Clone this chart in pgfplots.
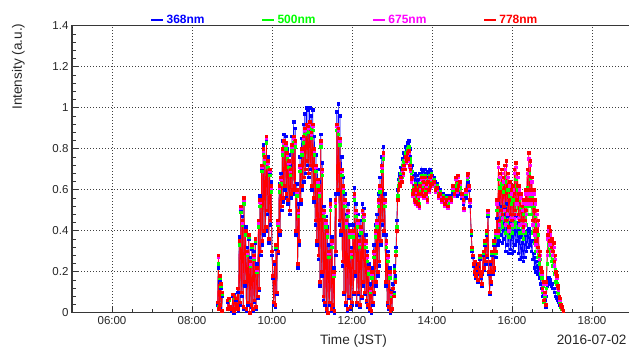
\documentclass[border=0pt]{standalone}
\usepackage{pgfplots}
\pgfplotsset{compat=1.18}
\usepackage{pgfplotstable}
\usepackage{fontspec}
\setmainfont{Liberation Sans}
\definecolor{cB}{RGB}{0,0,255}
\definecolor{cG}{RGB}{0,255,0}
\definecolor{cM}{RGB}{255,0,255}
\definecolor{cR}{RGB}{255,0,0}
\definecolor{frame}{RGB}{55,55,55}
\pgfplotstableread{
t b g m r
8.64 0.04 0.05 0.05 0.05
8.66 0.22 0.24 0.27 0.28
8.67 0.02 0.03 0.02 0.02
8.69 0.15 0.17 0.18 0.18
8.70 0.03 0.04 0.04 0.04
8.72 0.12 0.13 0.14 0.14
8.74 0.01 0.01 0.01 0.01
8.76 0.08 0.09 0.10 0.10
8.80 nan nan nan nan
8.88 0.05 0.06 0.06 0.06
8.90 0.02 0.02 0.02 0.02
8.92 0.07 0.06 0.07 0.07
8.94 0.03 0.03 0.03 0.03
8.97 nan nan nan nan
9.00 0.01 0.02 0.02 0.02
9.02 0.08 0.09 0.09 0.09
9.04 0.00 0.01 0.01 0.01
9.06 0.09 0.07 0.08 0.08
9.08 0.02 0.02 0.02 0.02
9.10 0.06 0.07 0.07 0.07
9.12 0.03 0.04 0.04 0.04
9.14 0.10 0.12 0.12 0.12
9.16 0.01 0.02 0.02 0.02
9.18 0.37 0.33 0.35 0.35
9.20 0.04 0.05 0.05 0.05
9.22 0.50 0.49 0.51 0.52
9.24 0.08 0.10 0.10 0.10
9.26 0.47 0.43 0.44 0.45
9.28 0.02 0.03 0.03 0.03
9.30 0.54 0.53 0.55 0.56
9.32 0.13 0.15 0.15 0.15
9.34 0.42 0.38 0.40 0.40
9.36 0.01 0.02 0.02 0.02
9.38 0.32 0.28 0.29 0.30
9.40 0.04 0.05 0.05 0.05
9.42 0.36 0.37 0.38 0.38
9.44 0.00 0.00 0.00 0.00
9.46 0.27 0.23 0.24 0.25
9.48 0.03 0.04 0.04 0.04
9.50 0.31 0.32 0.33 0.33
9.52 0.01 0.02 0.02 0.02
9.54 0.30 0.26 0.27 0.28
9.56 0.05 0.06 0.06 0.06
9.58 0.34 0.35 0.36 0.36
9.60 0.02 0.03 0.03 0.03
9.62 0.24 0.20 0.21 0.22
9.64 0.07 0.08 0.08 0.08
9.66 0.43 0.42 0.44 0.45
9.68 0.11 0.12 0.12 0.12
9.70 0.57 0.52 0.54 0.55
9.72 0.28 0.30 0.30 0.30
9.74 0.70 0.69 0.71 0.72
9.76 0.33 0.35 0.35 0.35
9.78 0.82 0.77 0.79 0.80
9.80 0.38 0.40 0.40 0.40
9.82 0.74 0.73 0.75 0.76
9.84 0.40 0.42 0.42 0.42
9.86 0.84 0.83 0.85 0.86
9.88 0.48 0.50 0.50 0.50
9.90 0.76 0.71 0.73 0.74
9.92 0.34 0.36 0.36 0.36
9.94 0.68 0.67 0.69 0.70
9.96 0.43 0.45 0.45 0.45
9.98 0.64 0.59 0.61 0.62
10.00 0.28 0.30 0.30 0.30
10.02 0.17 0.18 0.18 0.18
10.04 0.04 0.05 0.05 0.05
10.06 0.24 0.25 0.25 0.25
10.08 0.03 0.04 0.04 0.04
10.10 0.31 0.32 0.33 0.33
10.12 0.09 0.10 0.10 0.10
10.14 0.44 0.43 0.44 0.45
10.16 0.29 0.30 0.30 0.30
10.18 0.63 0.59 0.61 0.62
10.20 0.38 0.40 0.40 0.40
10.22 0.68 0.63 0.65 0.66
10.24 0.50 0.52 0.52 0.52
10.26 0.84 0.77 0.79 0.80
10.28 0.54 0.56 0.56 0.56
10.30 0.87 0.81 0.83 0.84
10.32 0.60 0.62 0.62 0.62
10.34 0.86 0.80 0.82 0.83
10.36 0.56 0.58 0.58 0.58
10.38 0.80 0.75 0.77 0.78
10.40 0.53 0.55 0.55 0.55
10.42 0.77 0.71 0.73 0.74
10.44 0.48 0.50 0.50 0.50
10.46 0.72 0.67 0.69 0.70
10.48 0.56 0.58 0.58 0.58
10.50 0.86 0.79 0.81 0.82
10.52 0.58 0.60 0.60 0.60
10.54 0.93 0.83 0.85 0.86
10.56 0.60 0.62 0.62 0.62
10.58 0.90 0.81 0.83 0.84
10.60 0.38 0.40 0.40 0.40
10.62 0.63 0.57 0.59 0.60
10.64 0.22 0.24 0.24 0.24
10.66 0.53 0.47 0.49 0.50
10.68 0.33 0.35 0.35 0.35
10.70 0.76 0.69 0.71 0.72
10.72 0.53 0.55 0.55 0.55
10.74 0.85 0.77 0.79 0.80
10.76 0.60 0.62 0.62 0.62
10.78 0.92 0.83 0.85 0.86
10.80 0.64 0.66 0.66 0.66
10.82 0.97 0.87 0.89 0.90
10.84 0.68 0.70 0.70 0.70
10.86 1.00 0.89 0.91 0.92
10.88 0.72 0.74 0.74 0.74
10.90 0.99 0.88 0.90 0.91
10.92 0.66 0.68 0.68 0.68
10.94 1.00 0.90 0.92 0.93
10.96 0.70 0.72 0.72 0.72
10.98 0.96 0.85 0.87 0.88
11.00 0.60 0.62 0.62 0.62
11.02 0.99 0.89 0.91 0.92
11.04 0.54 0.56 0.56 0.56
11.06 0.86 0.77 0.79 0.80
11.08 0.43 0.45 0.45 0.45
11.10 0.77 0.69 0.71 0.72
11.12 0.33 0.35 0.35 0.35
11.14 0.70 0.62 0.64 0.65
11.16 0.26 0.28 0.28 0.28
11.18 0.64 0.57 0.59 0.60
11.20 0.13 0.15 0.15 0.15
11.22 0.87 0.81 0.83 0.84
11.24 0.18 0.20 0.20 0.20
11.26 0.73 0.67 0.69 0.70
11.28 0.06 0.08 0.08 0.08
11.30 0.52 0.47 0.49 0.50
11.32 0.04 0.05 0.05 0.05
11.34 0.47 0.42 0.44 0.45
11.36 0.01 0.02 0.02 0.02
11.38 0.42 0.37 0.39 0.40
11.40 0.00 0.00 0.00 0.00
11.42 0.33 0.27 0.29 0.30
11.44 0.04 0.05 0.05 0.05
11.46 0.55 0.50 0.52 0.53
11.48 0.01 0.02 0.02 0.02
11.50 0.37 0.32 0.34 0.35
11.52 0.03 0.04 0.04 0.04
11.54 0.22 0.18 0.19 0.20
11.56 0.00 0.01 0.01 0.01
11.58 0.58 0.52 0.54 0.55
11.60 0.28 0.30 0.30 0.30
11.62 0.98 0.89 0.91 0.92
11.64 0.58 0.60 0.60 0.60
11.66 1.02 0.87 0.89 0.90
11.68 0.43 0.45 0.45 0.45
11.70 0.96 0.82 0.84 0.85
11.72 0.38 0.40 0.40 0.40
11.74 0.76 0.67 0.69 0.70
11.76 0.23 0.25 0.25 0.25
11.78 0.66 0.59 0.61 0.62
11.80 0.09 0.10 0.10 0.10
11.82 0.58 0.52 0.54 0.55
11.84 0.04 0.05 0.05 0.05
11.86 0.48 0.42 0.44 0.45
11.88 0.01 0.02 0.02 0.02
11.90 0.53 0.47 0.49 0.50
11.92 0.07 0.08 0.08 0.08
11.94 0.43 0.37 0.39 0.40
11.96 0.02 0.03 0.03 0.03
11.98 0.32 0.27 0.29 0.30
12.00 0.04 0.05 0.05 0.05
12.02 0.43 0.37 0.39 0.40
12.04 0.09 0.10 0.10 0.10
12.06 0.61 0.55 0.57 0.58
12.08 0.18 0.20 0.20 0.20
12.10 0.53 0.47 0.49 0.50
12.12 0.04 0.05 0.05 0.05
12.14 0.48 0.42 0.44 0.45
12.16 0.09 0.10 0.10 0.10
12.18 0.38 0.32 0.34 0.35
12.20 0.03 0.04 0.04 0.04
12.22 0.45 0.39 0.41 0.42
12.24 0.07 0.08 0.08 0.08
12.26 0.53 0.47 0.49 0.50
12.28 0.13 0.15 0.15 0.15
12.30 0.51 0.45 0.47 0.48
12.32 0.09 0.10 0.10 0.10
12.34 0.38 0.32 0.34 0.35
12.36 0.05 0.06 0.06 0.06
12.38 0.30 0.25 0.27 0.28
12.40 0.03 0.04 0.04 0.04
12.42 0.24 0.19 0.21 0.22
12.44 0.01 0.02 0.02 0.02
12.46 0.14 0.10 0.11 0.12
12.48 0.00 0.01 0.01 0.01
12.50 0.22 0.17 0.19 0.20
12.52 0.04 0.05 0.05 0.05
12.54 0.33 0.27 0.29 0.30
12.56 0.09 0.10 0.10 0.10
12.58 0.43 0.37 0.39 0.40
12.60 0.13 0.15 0.15 0.15
12.62 0.48 0.42 0.44 0.45
12.64 0.18 0.20 0.20 0.20
12.66 0.58 0.52 0.54 0.55
12.68 0.23 0.25 0.25 0.25
12.70 0.66 0.59 0.61 0.62
12.72 0.33 0.35 0.35 0.35
12.74 0.76 0.69 0.71 0.72
12.76 0.43 0.45 0.45 0.45
12.78 0.81 0.75 0.77 0.78
12.80 0.38 0.40 0.40 0.40
12.82 0.58 0.52 0.54 0.55
12.84 0.13 0.15 0.15 0.15
12.86 0.38 0.32 0.34 0.35
12.88 0.04 0.05 0.05 0.05
12.90 0.30 0.25 0.27 0.28
12.92 0.02 0.03 0.03 0.03
12.94 0.22 0.17 0.19 0.20
12.96 0.00 0.01 0.01 0.01
12.98 0.11 0.08 0.09 0.10
13.00 0.02 0.02 0.02 0.02
13.02 0.14 0.12 0.12 0.12
13.04 0.10 0.09 0.08 0.08
13.06 0.23 0.21 0.20 0.20
13.08 0.18 0.16 0.15 0.15
13.10 0.32 0.30 0.28 0.28
13.12 0.45 0.42 0.40 0.40
13.14 0.60 0.57 0.55 0.55
13.16 0.65 0.62 0.60 0.60
13.18 0.68 0.65 0.63 0.63
13.20 0.67 0.64 0.62 0.62
13.22 0.71 0.68 0.65 0.66
13.24 0.70 0.66 0.64 0.64
13.26 0.75 0.72 0.69 0.70
13.28 0.74 0.70 0.67 0.68
13.30 0.78 0.74 0.71 0.72
13.32 0.77 0.73 0.70 0.70
13.34 0.81 0.78 0.75 0.76
13.36 0.80 0.77 0.73 0.74
13.38 0.83 0.80 0.77 0.78
13.40 0.82 0.78 0.74 0.75
13.42 0.84 0.81 0.78 0.79
13.44 0.80 0.75 0.71 0.72
13.46 0.76 0.73 0.69 0.70
13.48 0.71 0.68 0.64 0.65
13.50 0.72 0.69 0.65 0.66
13.52 0.65 0.59 0.57 0.58
13.54 0.67 0.61 0.59 0.60
13.56 0.62 0.56 0.54 0.55
13.58 0.68 0.63 0.61 0.62
13.60 0.62 0.55 0.53 0.54
13.62 0.67 0.61 0.59 0.60
13.64 0.61 0.54 0.52 0.53
13.66 0.65 0.59 0.57 0.58
13.68 0.60 0.53 0.51 0.52
13.70 0.68 0.63 0.61 0.62
13.72 0.65 0.59 0.57 0.58
13.74 0.70 0.67 0.65 0.66
13.76 0.67 0.61 0.59 0.60
13.78 0.69 0.65 0.63 0.64
13.80 0.64 0.58 0.56 0.57
13.82 0.70 0.67 0.65 0.66
13.84 0.65 0.59 0.57 0.58
13.86 0.68 0.64 0.62 0.63
13.88 0.63 0.56 0.54 0.55
13.90 0.69 0.65 0.63 0.64
13.92 0.66 0.61 0.59 0.60
13.94 0.70 0.67 0.65 0.66
13.96 0.68 0.63 0.61 0.62
13.98 0.69 0.68 0.66 0.67
14.00 0.67 0.64 0.62 0.63
14.04 0.66 0.65 0.63 0.64
14.08 0.64 0.61 0.59 0.60
14.12 0.63 0.62 0.60 0.61
14.16 0.61 0.58 0.56 0.57
14.20 0.60 0.59 0.57 0.58
14.24 0.58 0.56 0.54 0.55
14.28 0.58 0.57 0.55 0.56
14.32 0.57 0.54 0.52 0.53
14.36 0.57 0.56 0.54 0.55
14.40 0.56 0.53 0.51 0.52
14.44 0.57 0.56 0.55 0.56
14.48 0.57 0.56 0.54 0.55
14.52 0.58 0.60 0.61 0.62
14.56 0.57 0.58 0.57 0.58
14.60 0.58 0.62 0.65 0.66
14.62 0.57 0.59 0.59 0.60
14.64 0.59 0.63 0.66 0.67
14.66 0.58 0.60 0.61 0.62
14.70 0.58 0.61 0.63 0.64
14.74 0.56 0.57 0.57 0.58
14.78 0.53 0.54 0.54 0.55
14.80 0.50 0.50 0.50 0.51
14.84 0.56 0.58 0.59 0.60
14.88 0.62 0.65 0.66 0.67
14.90 0.64 0.66 0.67 0.68
14.92 0.60 0.61 0.61 0.62
14.95 0.52 0.54 0.54 0.55
14.98 0.38 0.39 0.40 0.40
15.00 0.30 0.31 0.32 0.32
15.02 0.27 0.28 0.28 0.28
15.04 0.23 0.24 0.24 0.24
15.06 0.19 0.20 0.20 0.20
15.08 0.24 0.25 0.25 0.25
15.10 0.17 0.18 0.18 0.18
15.12 0.21 0.22 0.22 0.22
15.14 0.15 0.16 0.16 0.16
15.16 0.23 0.24 0.24 0.24
15.18 0.19 0.20 0.20 0.20
15.20 0.26 0.27 0.28 0.28
15.22 0.17 0.18 0.18 0.18
15.24 0.13 0.14 0.14 0.14
15.26 0.19 0.20 0.20 0.20
15.28 0.28 0.29 0.30 0.30
15.30 0.21 0.22 0.22 0.22
15.32 0.33 0.34 0.35 0.35
15.34 0.24 0.25 0.25 0.25
15.36 0.38 0.39 0.40 0.40
15.38 0.27 0.28 0.28 0.28
15.40 0.47 0.48 0.49 0.50
15.42 0.19 0.20 0.20 0.20
15.44 0.09 0.10 0.10 0.10
15.46 0.24 0.25 0.25 0.25
15.48 0.14 0.15 0.15 0.15
15.50 0.28 0.29 0.30 0.30
15.52 0.19 0.20 0.20 0.20
15.54 0.33 0.34 0.35 0.35
15.56 0.21 0.22 0.22 0.22
15.58 0.37 0.38 0.39 0.40
15.60 0.27 0.29 0.30 0.30
15.62 0.46 0.50 0.53 0.55
15.64 0.33 0.37 0.39 0.40
15.66 0.53 0.65 0.71 0.73
15.68 0.35 0.40 0.43 0.45
15.70 0.50 0.61 0.66 0.68
15.72 0.38 0.44 0.48 0.50
15.74 0.52 0.63 0.68 0.70
15.76 0.34 0.42 0.46 0.48
15.78 0.48 0.59 0.64 0.66
15.80 0.36 0.46 0.50 0.52
15.82 0.51 0.64 0.70 0.72
15.84 0.30 0.39 0.43 0.45
15.86 0.53 0.66 0.72 0.74
15.88 0.33 0.44 0.48 0.50
15.90 0.47 0.60 0.66 0.68
15.92 0.29 0.37 0.40 0.42
15.94 0.44 0.57 0.62 0.64
15.96 0.31 0.42 0.46 0.48
15.98 0.42 0.53 0.58 0.60
16.00 0.29 0.39 0.43 0.45
16.02 0.46 0.55 0.60 0.62
16.04 0.30 0.42 0.46 0.48
16.06 0.48 0.62 0.68 0.70
16.08 0.33 0.44 0.48 0.50
16.10 0.47 0.65 0.71 0.73
16.12 0.35 0.48 0.53 0.55
16.14 0.44 0.60 0.66 0.68
16.16 0.29 0.42 0.46 0.48
16.18 0.40 0.55 0.60 0.62
16.20 0.26 0.39 0.43 0.45
16.22 0.37 0.51 0.56 0.58
16.24 0.27 0.39 0.43 0.45
16.26 0.34 0.45 0.50 0.52
16.28 0.25 0.36 0.40 0.42
16.30 0.36 0.48 0.53 0.55
16.32 0.27 0.39 0.43 0.45
16.34 0.38 0.52 0.58 0.60
16.36 0.30 0.43 0.48 0.50
16.38 0.40 0.61 0.68 0.70
16.40 0.32 0.48 0.53 0.55
16.42 0.41 0.68 0.75 0.78
16.44 0.33 0.52 0.58 0.60
16.46 0.39 0.65 0.72 0.74
16.48 0.30 0.48 0.53 0.55
16.50 0.35 0.57 0.64 0.66
16.52 0.26 0.39 0.43 0.45
16.54 0.29 0.52 0.58 0.60
16.56 0.22 0.34 0.38 0.40
16.58 0.27 0.47 0.53 0.55
16.60 0.20 0.30 0.33 0.35
16.62 0.25 0.43 0.48 0.50
16.64 0.19 0.27 0.30 0.32
16.66 0.23 0.38 0.43 0.45
16.68 0.17 0.24 0.26 0.28
16.70 0.18 0.26 0.28 0.30
16.72 0.14 0.19 0.21 0.22
16.74 0.12 0.17 0.19 0.20
16.76 0.08 0.10 0.11 0.12
16.78 0.09 0.13 0.14 0.15
16.80 0.05 0.05 0.06 0.06
16.82 0.06 0.08 0.09 0.10
16.84 0.03 0.04 0.04 0.04
16.86 0.08 0.12 0.14 0.15
16.88 0.13 0.24 0.28 0.30
16.90 0.15 0.30 0.36 0.38
16.92 0.17 0.33 0.40 0.42
16.94 0.14 0.28 0.33 0.35
16.96 0.16 0.31 0.38 0.40
16.98 0.13 0.25 0.30 0.32
17.00 0.14 0.28 0.34 0.36
17.02 0.12 0.23 0.28 0.30
17.04 0.12 0.26 0.32 0.34
17.06 0.10 0.19 0.23 0.25
17.08 0.10 0.21 0.26 0.28
17.10 0.08 0.15 0.19 0.20
17.12 0.07 0.14 0.17 0.18
17.14 0.06 0.10 0.12 0.13
17.16 0.05 0.09 0.11 0.12
17.18 0.04 0.06 0.07 0.08
17.20 0.04 0.05 0.06 0.07
17.22 0.03 0.03 0.04 0.04
17.24 0.02 0.02 0.03 0.03
17.26 0.02 0.02 0.02 0.02
17.28 0.01 0.01 0.01 0.01
}\datatable

\begin{document}
\begin{tikzpicture}
\begin{axis}[
  at={(0pt,0pt)}, anchor=south west,
  scale only axis, width=560pt, height=287pt,
  xmin=5, xmax=19, ymin=0, ymax=1.4,
  xtick={6,8,10,12,14,16,18},
  xticklabels={06:00,08:00,10:00,12:00,14:00,16:00,18:00},
  minor x tick num=3,
  ytick={0,0.2,0.4,0.6,0.8,1,1.2,1.4},
  yticklabels={0,0.2,0.4,0.6,0.8,1,1.2,1.4},
  minor y tick num=4,
  tick pos=left, tick align=inside,
  major tick length=6pt, minor tick length=4pt,
  tick style={frame, line width=0.8pt},
  xmajorgrids, ymajorgrids,
  major grid style={black!75, line width=0.8pt, dash pattern=on 0.9pt off 2.1pt},
  axis line style={frame, line width=1.5pt},
  ticklabel style={font=\fontsize{11.5}{13}\selectfont, text=black!85},
  unbounded coords=jump,
  clip=true,
  every axis plot/.append style={line width=0.6pt, mark=square*, mark size=1.3pt, mark options={solid}},
  legend image code/.code={\draw[#1, mark=none, line width=2.4pt] (0pt,0pt) -- (12pt,0pt);},
  legend columns=4,
  legend style={at={(0.1393,1.0209)}, anchor=west, draw=none, fill=none, inner sep=0pt,
    font=\fontsize{12}{14}\selectfont\bfseries,
    /tikz/every even column/.append style={column sep=54.5pt},
    nodes={inner xsep=2pt, inner ysep=0pt}},
]
\addplot[cB, mark options={fill=cB, draw=cB}] table[x=t, y=b] {\datatable};
\addlegendentry{\textcolor{cB}{368nm}}
\addplot[cG, mark options={fill=cG, draw=cG}] table[x=t, y=g] {\datatable};
\addlegendentry{\textcolor{cG}{500nm}}
\addplot[cM, mark options={fill=cM, draw=cM}] table[x=t, y=m] {\datatable};
\addlegendentry{\textcolor{cM}{675nm}}
\addplot[cR, mark options={fill=cR, draw=cR}] table[x=t, y=r] {\datatable};
\addlegendentry{\textcolor{cR}{778nm}}
\end{axis}
\node[anchor=base, font=\fontsize{13.6}{16}\selectfont, text=black!85] at (281.5pt,-31.6pt) {Time (JST)};
\node[anchor=base east, font=\fontsize{13.6}{16}\selectfont, text=black!85] at (558pt,-31.6pt) {2016-07-02};
\node[rotate=90, anchor=base east, font=\fontsize{13.6}{16}\selectfont, text=black!85] at (-50pt,292.7pt) {Intensity (a.u.)};
\pgfresetboundingbox
\useasboundingbox (-72pt,-36.3pt) rectangle (557pt,312.7pt);
\end{tikzpicture}
\end{document}
